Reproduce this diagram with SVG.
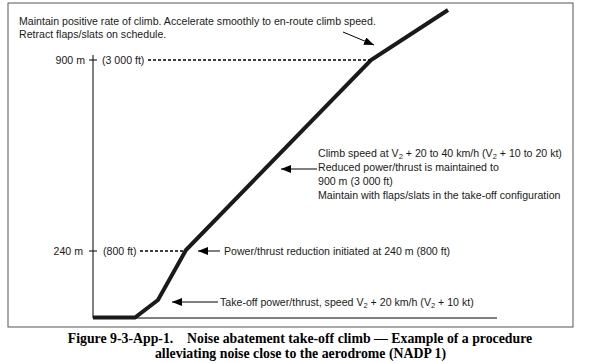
<svg xmlns="http://www.w3.org/2000/svg" width="590" height="363" viewBox="0 0 590 363">
<defs>
<marker id="ah" viewBox="0 0 10 8" refX="10" refY="4" markerWidth="10" markerHeight="8" markerUnits="userSpaceOnUse" orient="auto">
<path d="M0,0 L10,4 L0,8 Z" fill="#000"/>
</marker>
<style>
.t{font-family:"Liberation Sans",Arial,sans-serif;font-size:10.6px;fill:#1a1a1a}
.cap{font-family:"Liberation Serif","Times New Roman",serif;font-size:13.8px;font-weight:bold;fill:#000}
.thin{stroke:#000;stroke-width:1;fill:none}
.dot{stroke:#000;stroke-width:1.6;stroke-dasharray:3,2;fill:none}
.path{stroke:#1a1a1a;stroke-width:4;fill:none;stroke-linejoin:miter}
</style>
</defs>
<rect x="8" y="3" width="565" height="324" fill="#fff" stroke="#555" stroke-width="1"/>
<g id="axes">
<line class="thin" x1="93" y1="55" x2="93" y2="318" stroke="#444"/>
<line class="thin" x1="93" y1="318" x2="497" y2="318" stroke="#444"/>
<line class="thin" x1="89" y1="60" x2="97" y2="60"/>
<line class="thin" x1="89" y1="251" x2="97" y2="251"/>
</g>
<g id="labels-axis">
<text class="t" x="85" y="64" text-anchor="end">900 m</text>
<text class="t" x="83" y="255" text-anchor="end">240 m</text>
<text class="t" x="102" y="64">(3 000 ft)</text>
<text class="t" x="103" y="255">(800 ft)</text>
</g>
<g id="flight-path">
<polyline class="path" points="93,317.5 135,317.5 158,300 186,250 371,60 448,10"/>
</g>
<g id="connectors">
<line class="dot" x1="148" y1="60" x2="370" y2="60"/>
<line class="dot" x1="140" y1="251" x2="185" y2="251"/>
<line class="thin" x1="343" y1="32" x2="374" y2="45" marker-end="url(#ah)"/>
<line class="thin" x1="317" y1="169" x2="281" y2="169" marker-end="url(#ah)"/>
<line class="thin" x1="220" y1="251" x2="198" y2="251" marker-end="url(#ah)"/>
<line class="thin" x1="218" y1="302" x2="172" y2="302" marker-end="url(#ah)"/>
</g>
<g id="note-top">
<text class="t" x="19" y="25">Maintain positive rate of climb. Accelerate smoothly to en-route climb speed.</text>
<text class="t" x="19" y="38">Retract flaps/slats on schedule.</text>
</g>
<g id="note-climb">
<text class="t" x="318" y="157">Climb speed at V<tspan font-size="7.5" dy="2">2</tspan><tspan dy="-2"> + 20 to 40 km/h (V</tspan><tspan font-size="7.5" dy="2">2</tspan><tspan dy="-2"> + 10 to 20 kt)</tspan></text>
<text class="t" x="318" y="171">Reduced power/thrust is maintained to</text>
<text class="t" x="318" y="185">900 m (3 000 ft)</text>
<text class="t" x="318" y="199">Maintain with flaps/slats in the take-off configuration</text>
</g>
<g id="note-reduction">
<text class="t" x="224" y="255">Power/thrust reduction initiated at 240 m (800 ft)</text>
</g>
<g id="note-takeoff">
<text class="t" x="220" y="306">Take-off power/thrust, speed V<tspan font-size="7.5" dy="2">2</tspan><tspan dy="-2"> + 20 km/h (V</tspan><tspan font-size="7.5" dy="2">2</tspan><tspan dy="-2"> + 10 kt)</tspan></text>
</g>
<g id="caption">
<text class="cap" x="300" y="343" text-anchor="middle" xml:space="preserve">Figure 9-3-App-1.    Noise abatement take-off climb — Example of a procedure</text>
<text class="cap" x="300.5" y="358" text-anchor="middle">alleviating noise close to the aerodrome (NADP 1)</text>
</g>
</svg>
